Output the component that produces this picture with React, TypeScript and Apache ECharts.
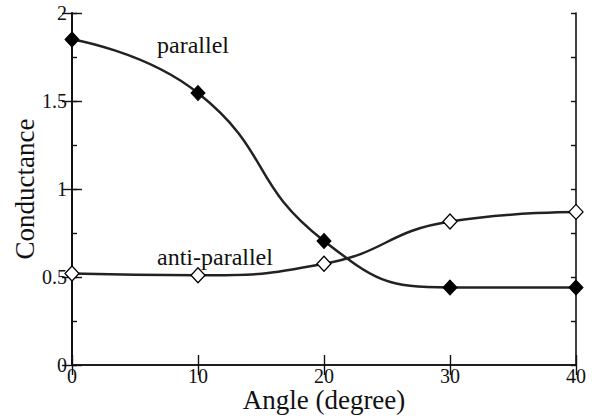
import React, { useEffect, useRef } from "react";
import * as echarts from "echarts";

const angles = [0, 10, 20, 30, 40];
const parallel = [1.85, 1.545, 0.705, 0.44, 0.44];
const antiParallel = [0.52, 0.51, 0.575, 0.815, 0.87];
const xTicks = [0, 10, 20, 30, 40];
const yTickLabels = ["0", "0.5", "1", "1.5", "2"];

const FONT = "'Liberation Serif', 'DejaVu Serif', serif";

export default function App() {
  const ref = useRef<HTMLDivElement>(null);
  useEffect(() => {
    document.body.style.margin = "0";
    const chart = echarts.init(ref.current!, null, { renderer: "svg" });
    const axisLine = { show: true, lineStyle: { color: "#111", width: 1.6 } };
    const tickStyle = { color: "#111", width: 1.4 };
    const baseX = {
      type: "value" as const,
      min: xTicks[0],
      max: xTicks[xTicks.length - 1],
      interval: 10,
      splitLine: { show: false },
      axisLine,
      axisTick: { show: true, inside: true, length: 10, lineStyle: tickStyle },
    };
    const baseY = {
      type: "value" as const,
      min: 0,
      max: 2,
      interval: 0.5,
      splitLine: { show: false },
      axisLine,
      axisTick: { show: true, inside: true, length: 10, lineStyle: tickStyle },
    };
    const minorY = {
      ...baseY,
      interval: 0.25,
      axisTick: { show: true, inside: true, length: 5, lineStyle: tickStyle },
      axisLabel: { show: false },
    };
    chart.setOption({
      animation: false,
      backgroundColor: "#fff",
      grid: { left: 72, right: 21, top: 13, bottom: 53, outerBoundsMode: "none", containLabel: false },
      xAxis: [
        {
          ...baseX,
          position: "bottom",
          name: "Angle (degree)",
          nameLocation: "middle",
          nameGap: 21,
          nameMoveOverlap: false,
          nameTextStyle: { fontFamily: FONT, fontSize: 27, lineHeight: 27, color: "#111" },
          axisLabel: {
            fontFamily: FONT,
            fontSize: 20,
            lineHeight: 16,
            color: "#111",
            margin: 3,
            formatter: (v: number) => String(v),
          },
        },
        { ...baseX, position: "top", axisLabel: { show: false } },
      ],
      yAxis: [
        {
          ...baseY,
          position: "left",
          name: "Conductance",
          nameLocation: "middle",
          nameGap: 34,
          nameMoveOverlap: false,
          nameTextStyle: { fontFamily: FONT, fontSize: 27, color: "#111" },
          axisLabel: {
            fontFamily: FONT,
            fontSize: 20,
            color: "#111",
            margin: 5,
            formatter: (v: number) => yTickLabels[Math.round(v / 0.5)] ?? "",
          },
        },
        { ...baseY, position: "right", axisLabel: { show: false } },
        { ...minorY, position: "left" },
        { ...minorY, position: "right" },
      ],
      graphic: [
        {
          type: "text",
          left: 157,
          top: 33,
          style: { text: "parallel", fontFamily: FONT, fontSize: 24, fill: "#111" },
        },
        {
          type: "text",
          left: 157,
          top: 245,
          style: { text: "anti-parallel", fontFamily: FONT, fontSize: 24, fill: "#111" },
        },
      ],
      series: [
        {
          type: "line",
          data: angles.map((a, i) => [a, parallel[i]]),
          smooth: 0.5,
          symbol: "diamond",
          symbolSize: [14, 15],
          lineStyle: { color: "#222", width: 2.5 },
          itemStyle: { color: "#000", borderColor: "#000", borderWidth: 1 },
          z: 3,
        },
        {
          type: "line",
          data: angles.map((a, i) => [a, antiParallel[i]]),
          smooth: 0.5,
          symbol: "diamond",
          symbolSize: [14, 15],
          lineStyle: { color: "#222", width: 2.5 },
          itemStyle: { color: "#fff", borderColor: "#000", borderWidth: 1.3 },
          z: 3,
        },
      ],
    });
    return () => chart.dispose();
  }, []);
  return <div ref={ref} style={{ width: 597, height: 418 }} />;
}
